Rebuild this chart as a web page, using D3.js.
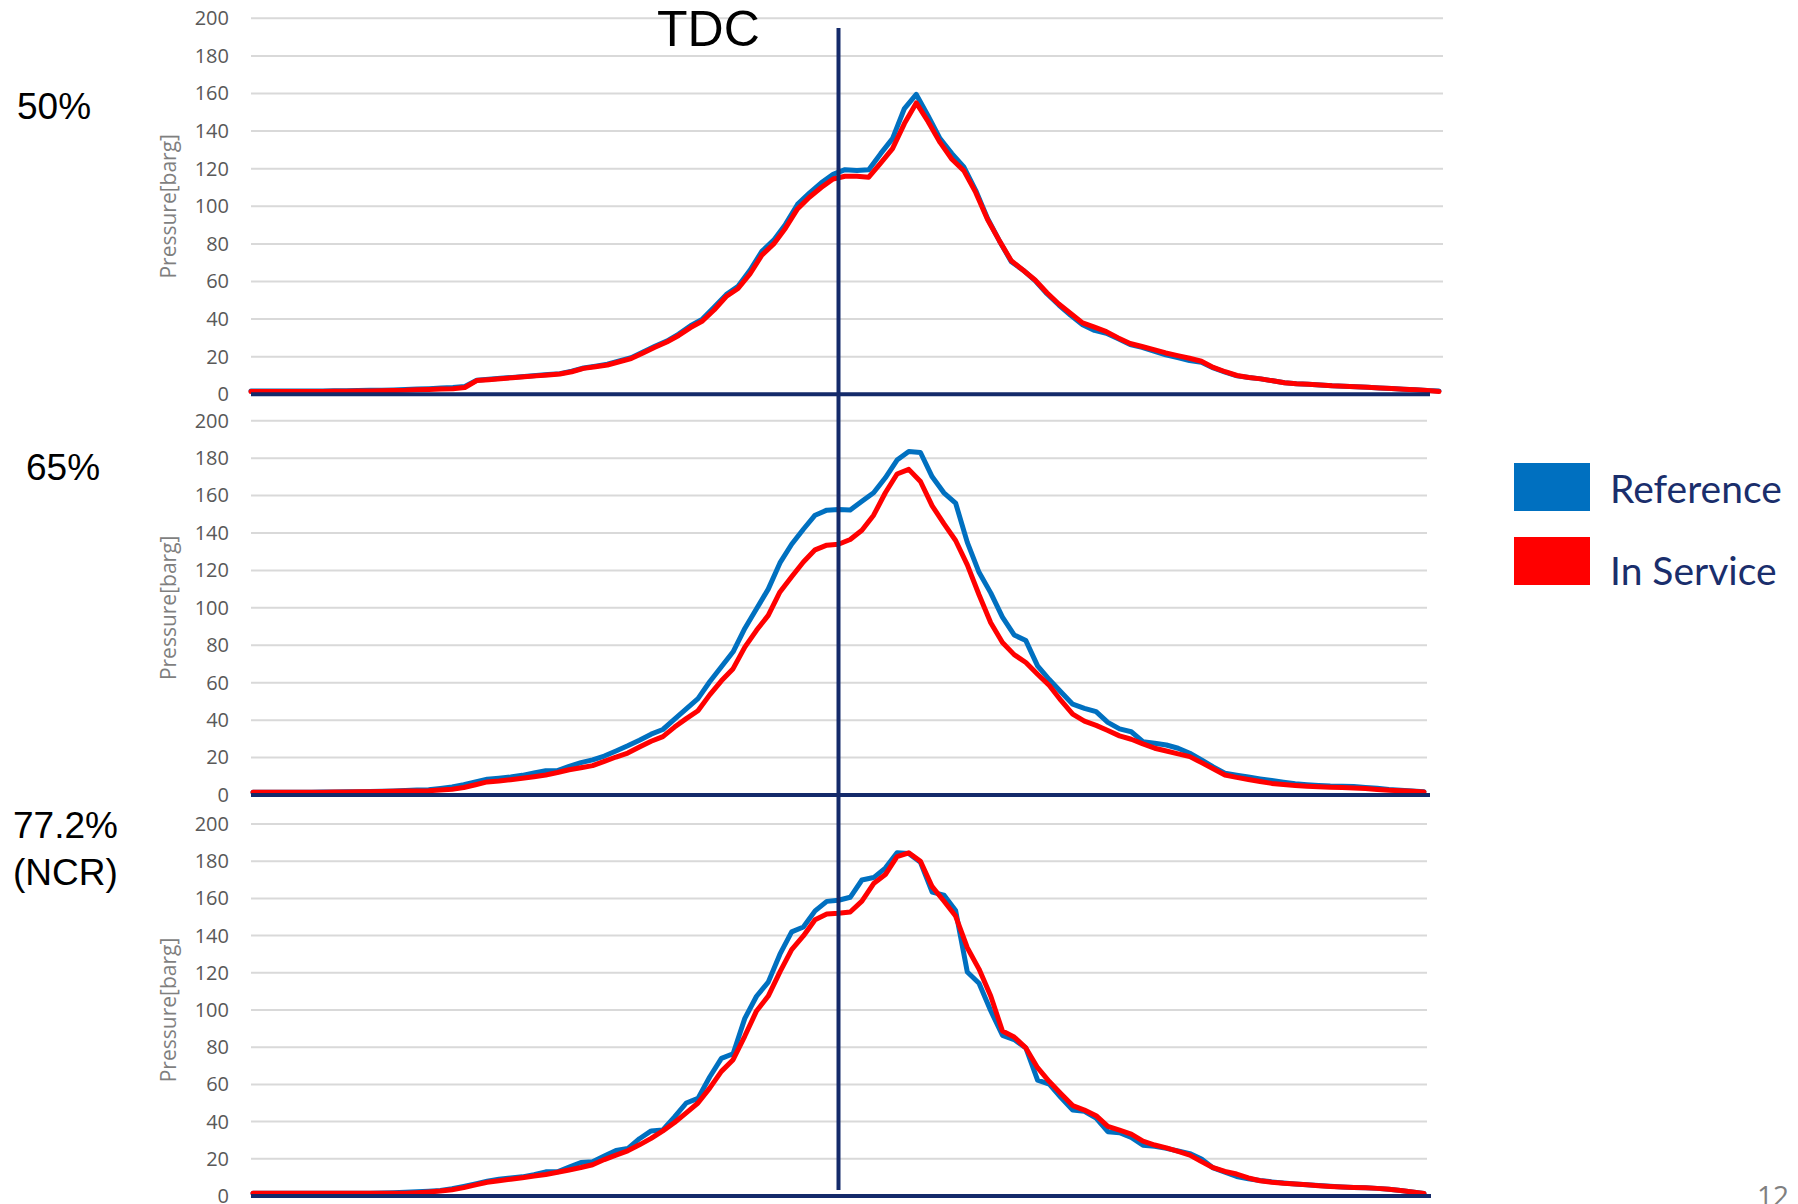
<!DOCTYPE html>
<html><head><meta charset="utf-8">
<script src="https://cdn.jsdelivr.net/npm/d3@7"></script>
<style>body{margin:0;background:#fff;} svg{display:block;}</style>
</head><body>
<svg id="chart" width="1798" height="1204"></svg>
<script>
// crank angle categories (deg, TDC = 0)
const angles = [-100,-98,-96,-94,-92,-90,-88,-86,-84,-82,
  -80,-78,-76,-74,-72,-70,-68,-66,-64,-62,
  -60,-58,-56,-54,-52,-50,-48,-46,-44,-42,
  -40,-38,-36,-34,-32,-30,-28,-26,-24,-22,
  -20,-18,-16,-14,-12,-10,-8,-6,-4,-2,
  0,2,4,6,8,10,12,14,16,18,
  20,22,24,26,28,30,32,34,36,38,
  40,42,44,46,48,50,52,54,56,58,
  60,62,64,66,68,70,72,74,76,78,
  80,82,84,86,88,90,92,94,96,98,
  100];
const yTicks = [0,20,40,60,80,100,120,140,160,180,200];

// 50% load
const ref50 = [1.8,1.8,1.8,1.8,1.8,1.8,1.8,1.9,1.9,2.0,
  2.1,2.2,2.3,2.5,2.8,3.0,3.3,3.6,4.2,7.5,
  8.0,8.5,9.0,9.5,10.0,10.5,11.0,12.3,14.0,15.0,
  16.0,17.8,19.5,22.5,25.5,28.3,32.0,36.5,40.0,46.5,
  53.0,57.5,66.0,76.0,82.0,90.5,101.0,107.0,112.5,117.0,
  119.5,119.0,119.5,128.0,136.0,152.0,159.5,148.0,136.0,128.0,
  121.0,108.5,93.5,81.6,70.5,66.0,60.5,53.5,47.5,42.0,
  37.0,34.0,32.5,29.5,26.5,25.0,23.0,21.0,19.5,18.0,
  17.0,14.0,11.8,9.8,8.9,8.2,7.2,6.1,5.6,5.3,
  4.9,4.5,4.3,4.0,3.7,3.4,3.1,2.7,2.4,2.0,
  1.8];
const svc50 = [1.5,1.5,1.5,1.5,1.5,1.5,1.5,1.6,1.6,1.7,
  1.8,1.9,2.0,2.1,2.4,2.6,2.8,3.0,3.6,7.3,
  7.8,8.3,8.8,9.3,9.8,10.3,10.8,12.0,13.8,14.7,
  15.6,17.3,19.0,22.0,25.0,27.8,31.3,35.5,39.0,45.0,
  52.0,56.3,64.0,74.0,80.0,88.5,98.6,104.8,110.0,114.5,
  116.0,116.0,115.5,123.0,130.7,144.0,155.0,145.0,134.0,125.0,
  119.0,107.4,93.0,81.6,71.0,66.0,60.8,54.0,48.0,43.0,
  38.0,35.7,33.3,30.0,27.0,25.4,23.8,22.0,20.6,19.2,
  17.6,14.3,12.0,10.0,8.9,8.2,7.2,6.1,5.6,5.3,
  4.9,4.5,4.3,4.0,3.7,3.4,3.1,2.7,2.4,2.0,
  1.5];

// 65% load
const ref65 = [1.5,1.5,1.5,1.5,1.5,1.5,1.6,1.6,1.7,1.8,
  1.9,2.0,2.2,2.4,2.7,2.8,3.5,4.3,5.5,7.0,
  8.4,9.0,9.6,10.5,11.8,13.0,13.0,15.3,17.3,18.8,
  20.8,23.5,26.3,29.3,32.5,35.0,40.5,46.0,51.5,60.5,
  68.5,76.5,89.0,99.5,110.0,124.0,134.0,142.0,149.5,152.2,
  152.5,152.3,157.0,161.5,169.5,179.0,183.5,183.0,170.0,161.5,
  156.0,135.0,119.0,108.0,95.0,85.5,82.5,69.0,61.7,55.0,
  48.5,46.3,44.5,38.8,35.3,33.8,28.5,27.7,26.7,25.0,
  22.3,18.8,15.0,11.7,10.6,9.6,8.6,7.7,6.8,6.0,
  5.5,5.1,4.8,4.7,4.5,4.0,3.6,3.0,2.6,2.2,
  1.8];
const svc65 = [1.5,1.5,1.5,1.5,1.5,1.5,1.5,1.6,1.6,1.7,
  1.8,1.9,2.0,2.1,2.2,2.3,2.7,3.1,4.0,5.5,
  7.0,7.5,8.2,9.0,9.8,10.7,12.0,13.5,14.6,15.7,
  18.0,20.3,22.4,25.6,28.7,31.2,36.3,40.8,45.0,53.5,
  61.0,67.5,79.0,88.0,96.0,108.5,116.6,124.5,131.0,133.5,
  134.0,136.5,141.5,149.5,161.5,171.5,174.0,167.5,154.5,145.0,
  136.0,123.0,107.0,92.0,81.5,75.0,70.8,64.5,58.5,50.5,
  43.2,39.5,37.2,34.5,31.6,29.8,27.3,25.0,23.5,22.0,
  20.5,17.3,14.0,10.7,9.4,8.3,7.2,6.2,5.6,5.1,
  4.7,4.4,4.2,4.0,3.7,3.5,3.0,2.6,2.3,2.0,
  1.6];

// 77.2% load (NCR)
const ref772 = [1.5,1.5,1.5,1.5,1.5,1.5,1.5,1.5,1.5,1.5,
  1.5,1.6,1.8,2.0,2.3,2.6,3.0,3.9,5.2,6.5,
  7.9,9.0,9.7,10.3,11.5,13.0,13.0,15.5,18.0,18.4,
  21.5,24.5,25.5,30.8,35.0,35.5,42.5,50.0,52.5,64.0,
  74.0,76.5,95.5,107.4,115.0,130.0,142.0,144.6,153.3,158.4,
  159.0,160.6,169.9,171.2,176.3,184.6,184.1,179.4,163.4,161.8,
  153.5,120.4,114.4,99.6,86.4,84.1,79.6,62.3,60.1,52.9,
  46.2,45.5,41.9,34.6,34.0,31.5,27.3,26.7,25.6,24.2,
  22.8,19.9,15.1,12.8,10.5,9.3,8.3,7.6,7.0,6.5,
  6.0,5.6,5.2,4.9,4.6,4.4,4.1,3.6,3.0,2.2,
  1.4];
const svc772 = [1.5,1.5,1.5,1.5,1.5,1.5,1.5,1.5,1.5,1.5,
  1.5,1.5,1.5,1.5,1.8,2.2,2.7,3.4,4.5,6.0,
  7.4,8.2,9.0,9.8,10.7,11.6,12.8,14.0,15.3,16.8,
  19.6,22.0,24.3,27.5,31.0,35.0,39.5,44.7,50.0,58.0,
  67.0,73.3,86.0,99.5,107.5,120.5,132.5,139.8,148.5,151.6,
  152.0,152.7,158.5,168.0,172.8,182.5,184.5,180.0,166.3,158.6,
  150.5,133.5,122.0,107.5,88.7,85.5,79.6,69.0,61.5,55.0,
  48.6,46.2,43.2,37.4,35.4,33.3,29.5,27.4,25.9,24.0,
  22.0,18.5,15.2,13.2,11.8,9.7,8.2,7.4,6.8,6.4,
  6.0,5.5,5.1,4.8,4.6,4.4,4.1,3.6,3.0,2.2,
  1.4];

const panelLabels = [["50%"], ["65%"], ["77.2%", "(NCR)"]];
const seriesNames = ["Reference", "In Service"];
const seriesColors = ["#0070c0", "#ff0000"];
const yAxisTitle = "Pressure[barg]";
const tdcLabel = "TDC";
const pageNumber = "12";

// ---------- layout ----------
const svg = d3.select("#chart");
const navy = "#142a6a";
const panels = [
  {ref: ref50,  svc: svc50,  top: 18.3,  bottom: 394.3, x0: 251, x1: 1439, gridR: 1443, axisR: 1430, lx: 17, ly: [119]},
  {ref: ref65,  svc: svc65,  top: 420.7, bottom: 795,   x0: 253, x1: 1424, gridR: 1427, axisR: 1430, lx: 26, ly: [480]},
  {ref: ref772, svc: svc772, top: 824,   bottom: 1196,  x0: 253, x1: 1424, gridR: 1427, axisR: 1431, lx: 13, ly: [838, 885]}
];
const plotLeft = 251;

panels.forEach((p, i) => {
  const x = d3.scaleLinear().domain([angles[0], angles[angles.length - 1]]).range([p.x0, p.x1]);
  const y = d3.scaleLinear().domain([0, 200]).range([p.bottom, p.top]);
  p.x = x; p.y = y;
  const g = svg.append("g");

  // gridlines
  g.selectAll("line.grid").data(yTicks.filter(v => v > 0)).join("line")
    .attr("x1", plotLeft).attr("x2", p.gridR)
    .attr("y1", d => y(d)).attr("y2", d => y(d))
    .attr("stroke", "#d9d9d9").attr("stroke-width", 2);

  // y axis labels
  const ax = d3.axisLeft(y).tickValues(yTicks).tickSize(0).tickPadding(22);
  const axg = g.append("g").attr("transform", `translate(${plotLeft},0)`).call(ax);
  axg.select(".domain").remove();
  axg.selectAll("text").attr("font-family", "'Open Sans', sans-serif")
    .attr("font-size", 20).attr("fill", "#595959");

  // axis title
  g.append("text")
    .attr("transform", `translate(168,${(p.top + p.bottom) / 2}) rotate(-90)`)
    .attr("text-anchor", "middle").attr("dominant-baseline", "central")
    .attr("font-family", "'Open Sans', sans-serif").attr("font-size", 21)
    .attr("fill", "#7f7f7f").text(yAxisTitle);

  // series lines
  const line = d3.line().x((d, k) => x(angles[k])).y(d => y(d));
  [p.ref, p.svc].forEach((s, k) => {
    g.append("path").datum(s).attr("d", line)
      .attr("fill", "none").attr("stroke", seriesColors[k])
      .attr("stroke-width", 5).attr("stroke-linejoin", "round").attr("stroke-linecap", "round");
  });

  // baseline
  g.append("line").attr("x1", plotLeft).attr("x2", p.axisR)
    .attr("y1", y(0)).attr("y2", y(0))
    .attr("stroke", navy).attr("stroke-width", 4);

  // load label
  panelLabels[i].forEach((t, k) => {
    svg.append("text").attr("x", p.lx).attr("y", p.ly[k])
      .attr("font-family", "'Liberation Sans', Arial, sans-serif")
      .attr("font-size", 37).attr("fill", "#000").text(t);
  });
});

// TDC vertical line
const xT = panels[1].x(0);
svg.append("line").attr("x1", xT).attr("x2", xT).attr("y1", 28).attr("y2", 1190)
  .attr("stroke", navy).attr("stroke-width", 4);
svg.append("text").attr("x", 657).attr("y", 46)
  .attr("font-family", "'Liberation Sans', Arial, sans-serif")
  .attr("font-size", 50).attr("fill", "#000").text(tdcLabel);

// legend
const lg = svg.append("g");
seriesNames.forEach((n, k) => {
  lg.append("rect").attr("x", 1514).attr("y", 463 + k * 74).attr("width", 76).attr("height", 48)
    .attr("fill", seriesColors[k]);
  lg.append("text").attr("x", 1610).attr("y", 503 + k * 82)
    .attr("font-family", "Lato, sans-serif").attr("font-size", 39)
    .attr("fill", "#1a2e6c").text(n);
});

// page number
svg.append("text").attr("x", 1757).attr("y", 1206)
  .attr("font-family", "'Open Sans', sans-serif").attr("font-size", 28)
  .attr("fill", "#808080").text(pageNumber);
</script>
</body></html>
